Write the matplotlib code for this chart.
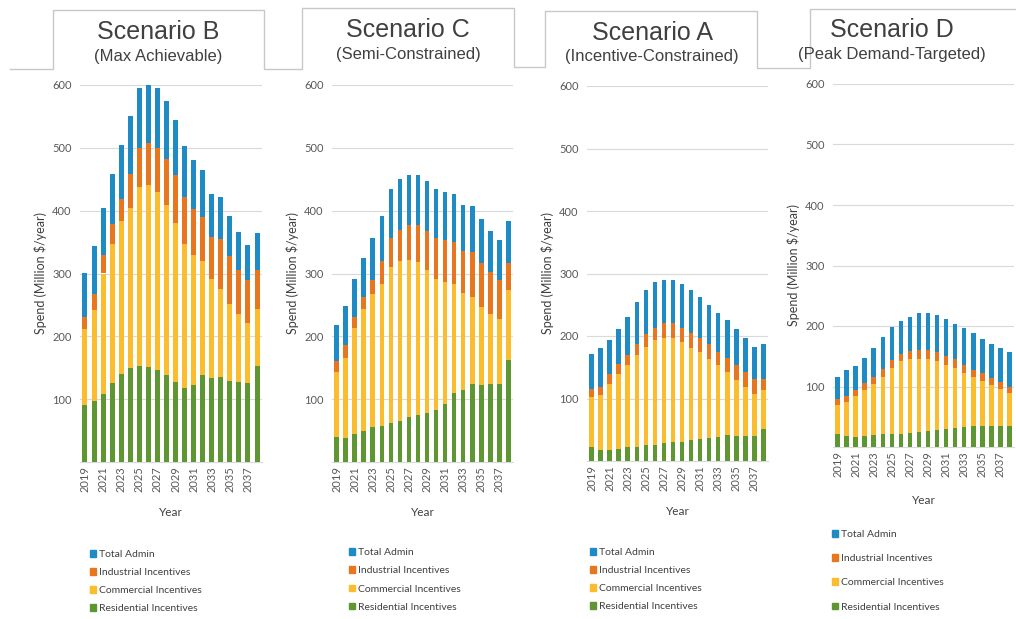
import matplotlib
matplotlib.use("Agg")
import matplotlib.pyplot as plt
from matplotlib import font_manager
from matplotlib.lines import Line2D
from matplotlib.patches import Patch

years = list(range(2019, 2039))
year_labels = [str(y) if (y - 2019) % 2 == 0 else "" for y in years]

# Scenario B (Max Achievable)
b_res = [91, 97, 109, 126, 140, 149, 152, 151, 146, 138, 127, 118, 122, 138, 133, 135, 129, 128, 125, 153]
b_com = [121, 145, 191, 221, 244, 256, 285, 290, 283, 271, 253, 229, 207, 182, 159, 141, 123, 107, 97, 90]
b_ind = [19, 25, 29, 32, 34, 53, 63, 67, 71, 74, 76, 75, 73, 70, 66, 79, 76, 70, 67, 63]
b_adm = [69, 77, 76, 79, 87, 93, 96, 94, 96, 92, 88, 81, 79, 75, 69, 66, 63, 61, 57, 59]

# Scenario C (Semi-Constrained)
c_res = [40, 38, 44, 49, 55, 58, 62, 66, 72, 75, 78, 82, 93, 110, 114, 124, 122, 124, 124, 162]
c_com = [103, 128, 170, 194, 212, 225, 249, 254, 250, 244, 227, 210, 194, 174, 155, 139, 125, 112, 103, 111]
c_ind = [17, 20, 17, 19, 22, 37, 46, 50, 55, 58, 62, 65, 67, 66, 67, 72, 69, 67, 62, 43]
c_adm = [58, 62, 61, 63, 67, 72, 78, 80, 79, 79, 81, 77, 76, 76, 73, 72, 70, 65, 65, 67]

# Scenario A (Incentive-Constrained)
a_res = [22, 17, 18, 20, 22, 22, 25, 26, 29, 30, 31, 33, 35, 37, 38, 41, 40, 40, 40, 52]
a_com = [80, 88, 106, 120, 131, 147, 157, 168, 168, 167, 159, 148, 139, 127, 115, 101, 89, 79, 68, 61]
a_ind = [13, 14, 15, 15, 16, 19, 22, 19, 24, 24, 23, 24, 23, 23, 22, 23, 24, 23, 24, 19]
a_adm = [56, 62, 55, 57, 61, 66, 69, 73, 69, 69, 71, 68, 65, 63, 62, 60, 59, 55, 51, 55]

# Scenario D (Peak Demand-Targeted)
d_res = [22, 18, 17, 18, 20, 21, 21, 22, 23, 25, 26, 28, 30, 32, 33, 34, 34, 34, 35, 35]
d_com = [48, 57, 67, 77, 84, 95, 110, 120, 122, 121, 119, 114, 105, 99, 89, 81, 75, 68, 61, 54]
d_ind = [9, 10, 11, 10, 11, 13, 12, 12, 13, 15, 15, 15, 15, 15, 14, 13, 13, 12, 11, 11]
d_adm = [36, 42, 39, 42, 49, 52, 55, 55, 57, 61, 61, 61, 61, 58, 60, 60, 57, 56, 57, 57]

titles = ["Scenario B", "Scenario C", "Scenario A", "Scenario D"]
subtitles = ["(Max Achievable)", "(Semi-Constrained)", "(Incentive-Constrained)", "(Peak Demand-Targeted)"]
series_names = ["Total Admin", "Industrial Incentives", "Commercial Incentives", "Residential Incentives"]
yticks = [100, 200, 300, 400, 500, 600]

C_RES, C_COM, C_IND, C_ADM = "#5e9732", "#fbbc2e", "#e8761e", "#1f8bc4"

available = {f.name for f in font_manager.fontManager.ttflist}
if "Liberation Sans Narrow" in available:
    title_font, t_size, s_size = "Liberation Sans Narrow", 21, 14
else:
    title_font, t_size, s_size = "Liberation Sans", 18, 12
body_font = "Lato"

W, H = 1016, 619
fig = plt.figure(figsize=(W / 100, H / 100), dpi=100)
fig.patch.set_facecolor("white")

def fx(x):
    return x / W

def fy(y):
    return 1 - y / H

# panel layout in pixels: (left, right, top(600), bottom(0))
boxes = [(80, 262, 85, 462), (332, 513, 85, 462), (587, 768, 86, 461), (833, 1014, 84, 447)]
data = [(b_res, b_com, b_ind, b_adm), (c_res, c_com, c_ind, c_adm),
        (a_res, a_com, a_ind, a_adm), (d_res, d_com, d_ind, d_adm)]
legend_pos = [(90, 550, 0.86), (349, 548, 0.89), (590, 548, 0.86), (832, 530, 1.46)]
title_x = [158, 408, 652, 892]
title_y = [(32, 57), (30, 55), (33, 57), (30, 55)]
xlabel_pad = [11, 11, 11, 13]

tick_color = "#595959"

for i, (box, dat) in enumerate(zip(boxes, data)):
    l, r, t, b = box
    ax = fig.add_axes([fx(l), fy(b), (r - l) / W, (b - t) / H])
    res, com, ind, adm = dat
    x = list(range(len(years)))
    bot2 = [p + q for p, q in zip(res, com)]
    bot3 = [p + q for p, q in zip(bot2, ind)]
    w = 0.55
    ax.bar(x, res, width=w, color=C_RES, zorder=3)
    ax.bar(x, com, width=w, bottom=res, color=C_COM, zorder=3)
    ax.bar(x, ind, width=w, bottom=bot2, color=C_IND, zorder=3)
    ax.bar(x, adm, width=w, bottom=bot3, color=C_ADM, zorder=3)
    ax.set_xlim(-0.55, len(years) - 0.45)
    ax.set_ylim(0, 600)
    ax.set_yticks(yticks)
    ax.set_yticklabels([str(v) for v in yticks], fontsize=8, color=tick_color, family=body_font)
    ax.set_xticks(x)
    ax.set_xticklabels(year_labels, rotation=90, fontsize=8, color=tick_color, family=body_font)
    ax.tick_params(axis="both", length=0, pad=3)
    ax.tick_params(axis="y", pad=6)
    ax.grid(axis="y", color="#d9d9d9", linewidth=0.8, zorder=0)
    for s in ["top", "right", "left"]:
        ax.spines[s].set_visible(False)
    ax.spines["bottom"].set_color("#d9d9d9")
    ax.spines["bottom"].set_linewidth(0.8)
    ax.set_facecolor("white")
    ax.set_ylabel("Spend (Million $/year)", fontsize=9, color="#404040", family=body_font, labelpad=4)
    ax.set_xlabel("Year", fontsize=8.5, color="#404040", family=body_font, labelpad=xlabel_pad[i])

    # legend
    handles = [Patch(color=c) for c in [C_ADM, C_IND, C_COM, C_RES]]
    lx, ly, ls = legend_pos[i]
    fig.legend(handles, series_names, loc="upper left",
               bbox_to_anchor=(fx(lx), fy(ly)), frameon=False,
               prop={"family": body_font, "size": 7.5},
               handlelength=0.6, handleheight=0.6, handletextpad=0.3,
               labelspacing=ls, borderaxespad=0, borderpad=0.0,
               labelcolor="#404040")

    # titles
    fig.text(fx(title_x[i]), fy(title_y[i][0]), titles[i], ha="center", va="center",
             fontsize=t_size, color="#404040", family=title_font)
    fig.text(fx(title_x[i]), fy(title_y[i][1]), subtitles[i], ha="center", va="center",
             fontsize=s_size, color="#404040", family=title_font)

# tab outlines
path_px = [(10, 69), (53, 69), (53, 10), (264, 10), (264, 69), (302, 69), (302, 8), (514, 8),
           (514, 67), (545, 67), (545, 11), (757, 11), (757, 68), (810, 68), (810, 9), (1016, 9)]
xs = [fx(p[0]) for p in path_px]
ys = [fy(p[1]) for p in path_px]
fig.add_artist(Line2D(xs, ys, color="#c8c8c8", linewidth=1.0, transform=fig.transFigure))

fig.savefig("out.png", dpi=100, facecolor="white")
